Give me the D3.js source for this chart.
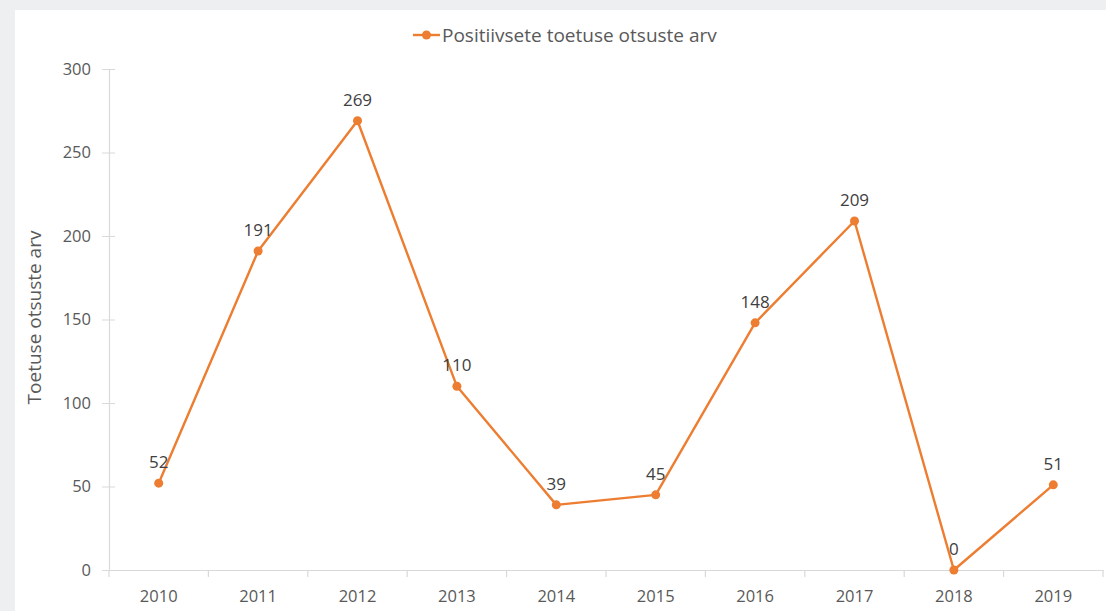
<!DOCTYPE html>
<html>
<head>
<meta charset="utf-8">
<script src="https://cdn.jsdelivr.net/npm/d3@7"></script>
<style>
  body { margin: 0; background: #eeeff1; font-family: "Open Sans", "Noto Sans", sans-serif; }
  svg { display: block; }
</style>
</head>
<body>
<svg id="chart" width="1106" height="611"></svg>
<script>
// Data
const years = ['2010','2011','2012','2013','2014','2015','2016','2017','2018','2019'];
const decisions = [52, 191, 269, 110, 39, 45, 148, 209, 0, 51];
const yTicks = [0, 50, 100, 150, 200, 250, 300];
const seriesName = 'Positiivsete toetuse otsuste arv';
const yTitle = 'Toetuse otsuste arv';

const W = 1106, H = 611;
const orange = '#ed7d31';
const svg = d3.select('#chart');

// White panel
svg.append('rect').attr('x', 15).attr('y', 10).attr('width', W - 15).attr('height', H - 10).attr('fill', '#fff');

const m = { left: 109, right: 1103, top: 69, bottom: 570 };
const x = d3.scaleBand().domain(years).range([m.left, m.right]);
const y = d3.scaleLinear().domain([0, 300]).range([m.bottom, m.top]);

// Y axis
const yAxis = svg.append('g').attr('transform', `translate(${m.left},0)`)
  .call(d3.axisLeft(y).tickValues(yTicks).tickSizeInner(7).tickSizeOuter(0).tickPadding(11));
yAxis.select('.domain').attr('stroke', '#d9d9d9').attr('stroke-width', 1.2);
yAxis.selectAll('.tick line').attr('stroke', '#d9d9d9').attr('x2', 6).attr('x1', -7);
yAxis.selectAll('.tick text').attr('fill', '#595959').style('font-size', '16.5px')
  .style('font-family', '"Open Sans", sans-serif');

// X axis
const xAxis = svg.append('g').attr('transform', `translate(0,${m.bottom})`)
  .call(d3.axisBottom(x).tickSize(0).tickPadding(20));
xAxis.select('.domain').attr('stroke', '#d9d9d9').attr('stroke-width', 1.2);
xAxis.selectAll('.tick text').attr('fill', '#595959').style('font-size', '16.5px')
  .style('font-family', '"Open Sans", sans-serif');
// category boundary ticks
const bounds = years.map(d => x(d)).concat([x(years[years.length - 1]) + x.bandwidth()]);
svg.append('g').selectAll('line').data(bounds).enter().append('line')
  .attr('x1', d => d).attr('x2', d => d)
  .attr('y1', m.bottom).attr('y2', m.bottom + 7)
  .attr('stroke', '#d9d9d9').attr('stroke-width', 1.2);

// Y title
svg.append('text')
  .attr('transform', `translate(41,${(m.top + m.bottom) / 2 - 2}) rotate(-90)`)
  .attr('text-anchor', 'middle')
  .attr('fill', '#595959')
  .style('font-size', '19px')
  .text(yTitle);

// Line
const cx = d => x(d) + x.bandwidth() / 2;
const line = d3.line().x((d, i) => cx(years[i])).y(d => y(d));
svg.append('path').datum(decisions)
  .attr('d', line)
  .attr('fill', 'none')
  .attr('stroke', orange)
  .attr('stroke-width', 2.4)
  .attr('stroke-linejoin', 'round');

svg.append('g').selectAll('circle').data(decisions).enter().append('circle')
  .attr('cx', (d, i) => cx(years[i]))
  .attr('cy', d => y(d))
  .attr('r', 4.5)
  .attr('fill', orange);

// Data labels
svg.append('g').selectAll('text').data(decisions).enter().append('text')
  .attr('x', (d, i) => cx(years[i]))
  .attr('y', d => y(d) - 15)
  .attr('text-anchor', 'middle')
  .attr('fill', '#404040')
  .style('font-size', '17px')
  .text(d => d);

// Legend
const lg = svg.append('g').attr('transform', 'translate(413,35)');
lg.append('line').attr('x1', 0).attr('x2', 27).attr('stroke', orange).attr('stroke-width', 2.4);
lg.append('circle').attr('cx', 13.5).attr('r', 4.5).attr('fill', orange);
lg.append('text').attr('x', 29).attr('y', 6.5)
  .attr('fill', '#595959')
  .style('font-size', '19px')
  .text(seriesName);
</script>
</body>
</html>
